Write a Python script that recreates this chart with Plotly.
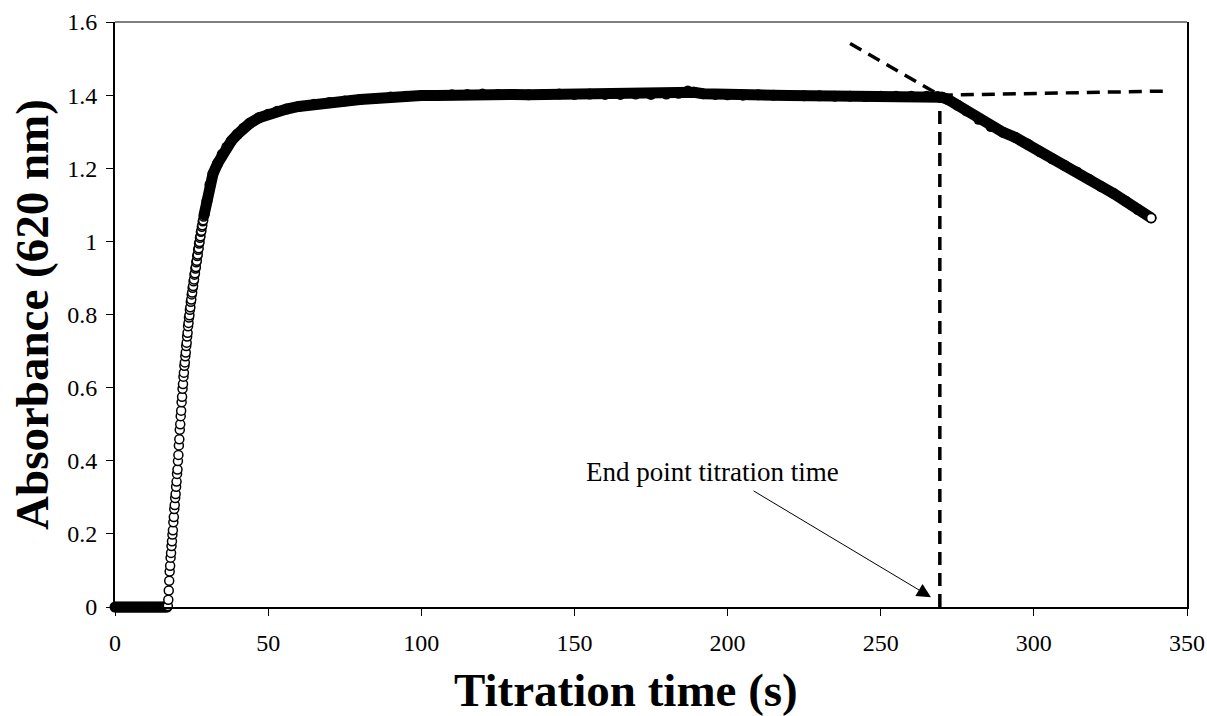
import plotly.graph_objects as go

# ---------------- data ----------------
# baseline (before colour change), dense band at 0
t_base = [0.0, 0.5, 1.0, 1.5, 2.0, 2.5, 3.0, 3.5, 4.0, 4.5, 5.0, 5.5, 6.0, 6.5,
          7.0, 7.5, 8.0, 8.5, 9.0, 9.5, 10.0, 10.5, 11.0, 11.5, 12.0, 12.5,
          13.0, 13.5, 14.0, 14.5, 15.0, 15.5, 16.0, 16.5, 17.0]
a_base = [0.0] * len(t_base)

# steep rise, individually visible open circles
t_rise = [17.25, 17.40, 17.55, 17.70, 17.85, 18.00, 18.15, 18.30, 18.45, 18.60,
          18.75, 18.90, 19.05, 19.20, 19.35, 19.50, 19.65, 19.80, 19.95, 20.10,
          20.25, 20.40, 20.55, 20.70, 20.85, 21.00, 21.15, 21.30, 21.45, 21.60,
          21.75, 21.90, 22.05, 22.20, 22.35, 22.50, 22.65, 22.80, 22.95, 23.10,
          23.25, 23.40, 23.55, 23.70, 23.85, 24.00, 24.15, 24.30, 24.45, 24.60,
          24.75, 24.90, 25.05, 25.20, 25.35, 25.50, 25.65, 25.80, 25.95, 26.10,
          26.25, 26.40, 26.55, 26.70, 26.85, 27.00, 27.15, 27.30, 27.45, 27.60,
          27.75, 27.90, 28.05, 28.20, 28.35, 28.50, 28.65, 28.80, 28.95, 29.10]
a_rise = [0.003, 0.020, 0.045, 0.072, 0.097, 0.113, 0.135, 0.148, 0.167, 0.180,
          0.198, 0.210, 0.232, 0.246, 0.268, 0.279, 0.298, 0.309, 0.329, 0.343,
          0.364, 0.376, 0.399, 0.416, 0.442, 0.459, 0.485, 0.500, 0.522, 0.537,
          0.560, 0.575, 0.597, 0.610, 0.630, 0.641, 0.660, 0.669, 0.686, 0.696,
          0.714, 0.723, 0.740, 0.750, 0.768, 0.777, 0.792, 0.798, 0.813, 0.820,
          0.835, 0.841, 0.855, 0.860, 0.873, 0.878, 0.891, 0.896, 0.909, 0.913,
          0.926, 0.930, 0.943, 0.947, 0.960, 0.964, 0.977, 0.981, 0.994, 0.998,
          1.010, 1.014, 1.026, 1.029, 1.040, 1.044, 1.055, 1.058, 1.068, 1.073]

# plateau and decline, dense band
t_plat = [29.1, 30.0, 31.0, 32.0, 33.5, 35.0, 36.5, 38.0, 40.0, 42.0, 44.0, 47.0,
          50.0, 53.0, 56.0, 60.0, 65.0, 70.0, 75.0, 80.0, 85.0, 90.0, 95.0, 100.0,
          105.0, 110.0, 115.0, 120.0, 125.0, 130.0, 135.0, 140.0, 145.0, 150.0,
          155.0, 160.0, 165.0, 170.0, 175.0, 180.0, 184.0, 187.0, 189.0, 192.0,
          196.0, 200.0, 205.0, 210.0, 215.0, 220.0, 225.0, 230.0, 235.0, 240.0,
          245.0, 250.0, 255.0, 260.0, 265.0, 268.5, 270.0, 272.0, 275.0, 278.0,
          282.0, 286.0, 290.0, 294.0, 298.0, 302.0, 306.0, 310.0, 314.0, 318.0,
          322.0, 326.0, 330.0, 334.0, 338.3]
a_plat = [1.073, 1.110, 1.155, 1.185, 1.213, 1.238, 1.258, 1.275, 1.293, 1.310, 1.323, 1.338,
          1.348, 1.356, 1.362, 1.369, 1.375, 1.380, 1.384, 1.388, 1.391, 1.395, 1.397, 1.399,
          1.399, 1.401, 1.402, 1.403, 1.402, 1.402, 1.401, 1.402, 1.403, 1.402,
          1.403, 1.402, 1.402, 1.403, 1.402, 1.403, 1.405, 1.411, 1.408, 1.404,
          1.402, 1.401, 1.400, 1.401, 1.400, 1.399, 1.398, 1.398, 1.397, 1.397,
          1.396, 1.397, 1.397, 1.397, 1.397, 1.396, 1.394, 1.388, 1.373, 1.357,
          1.334, 1.314, 1.298, 1.284, 1.266, 1.245, 1.226, 1.208, 1.190, 1.170,
          1.150, 1.131, 1.110, 1.087, 1.064]

# graphical end-point construction
end_t = 269.3          # end point titration time (s)
end_a = 1.400          # absorbance at intersection
tangent_t0, tangent_a0 = 240.0, 1.541
plateau_t1, plateau_a1 = 342.8, 1.411
arrow_tip_t, arrow_tip_a = 266.4, 0.027
arrow_tail_t, arrow_tail_a = 208.0, 0.32
label_t, label_a = 195.0, 0.369

x_ticks = [0, 50, 100, 150, 200, 250, 300, 350]
y_ticks = [0, 0.2, 0.4, 0.6, 0.8, 1.0, 1.2, 1.4, 1.6]

SERIF = "Liberation Serif, Times New Roman, serif"
BAND_W = 11
OPEN_SIZE = 9

fig = go.Figure()

dash_style = dict(color="black", width=3.5, dash="13px,8px")
fig.add_trace(go.Scatter(x=[end_t, end_t], y=[0, end_a], mode="lines",
                         line=dash_style, cliponaxis=False, showlegend=False))
fig.add_trace(go.Scatter(x=[end_t, plateau_t1], y=[end_a, plateau_a1], mode="lines",
                         line=dash_style, cliponaxis=False, showlegend=False))
fig.add_trace(go.Scatter(x=[tangent_t0, end_t], y=[tangent_a0, end_a], mode="lines",
                         line=dash_style, cliponaxis=False, showlegend=False))

# baseline band (dense markers so that it is not clipped at the axis)
fig.add_trace(go.Scatter(x=t_base, y=a_base, mode="markers",
                         marker=dict(symbol="circle", size=BAND_W, color="black", line=dict(width=0)),
                         cliponaxis=False, showlegend=False))
# rise: open circles
fig.add_trace(go.Scatter(x=t_rise, y=a_rise, mode="markers",
                         marker=dict(symbol="circle", size=OPEN_SIZE, color="white",
                                     line=dict(color="black", width=1.5)),
                         cliponaxis=False, showlegend=False))
# plateau band
fig.add_trace(go.Scatter(x=t_plat, y=a_plat, mode="lines+markers",
                         line=dict(color="black", width=BAND_W),
                         marker=dict(symbol="circle", size=BAND_W, color="black", line=dict(width=0)),
                         cliponaxis=False, showlegend=False))
# final point drawn last (open circle)
fig.add_trace(go.Scatter(x=[t_plat[-1]], y=[a_plat[-1]], mode="markers",
                         marker=dict(symbol="circle", size=OPEN_SIZE, color="white",
                                     line=dict(color="black", width=1.5)),
                         cliponaxis=False, showlegend=False))

fig.add_annotation(x=label_t, y=label_a, xref="x", yref="y", text="End point titration time",
                   showarrow=False, font=dict(family=SERIF, size=27, color="black"))
fig.add_annotation(x=arrow_tip_t, y=arrow_tip_a, xref="x", yref="y",
                   ax=arrow_tail_t, ay=arrow_tail_a, axref="x", ayref="y",
                   text="", showarrow=True, arrowhead=2, arrowsize=2.8, arrowwidth=1,
                   arrowcolor="black", standoff=0)

# x-axis title (placed as in the reference, slightly left of centre)
fig.add_annotation(x=0.4767, y=-0.142, xref="paper", yref="paper", xanchor="center",
                   yanchor="middle", text="<b>Titration time (s)</b>", showarrow=False,
                   font=dict(family=SERIF, size=47, color="black"))

# thin top border
fig.add_shape(type="line", xref="paper", yref="paper", x0=0, x1=1, y0=1, y1=1,
              line=dict(color="black", width=1))

fig.update_layout(
    width=1207, height=716,
    margin=dict(l=115, r=20, t=22, b=109),
    paper_bgcolor="white", plot_bgcolor="white",
    font=dict(family=SERIF, color="black"),
    xaxis=dict(range=[0, 350], tickvals=x_ticks, ticks="outside", ticklen=7, tickwidth=1,
               tickcolor="black", showline=True, linecolor="black", linewidth=2,
               showgrid=False, zeroline=False, tickfont=dict(family=SERIF, size=24),
               ticklabelstandoff=6, automargin=False),
    yaxis=dict(range=[0, 1.6], tickvals=y_ticks, ticks="outside", ticklen=7, tickwidth=1,
               tickcolor="black", showline=True, linecolor="black", linewidth=2, mirror=True,
               showgrid=False, zeroline=False, tickfont=dict(family=SERIF, size=24),
               ticklabelstandoff=4, automargin=False,
               title=dict(text="<b>Absorbance (620 nm)</b>", font=dict(family=SERIF, size=47),
                          standoff=4)),
)

fig.write_html("out.html")
